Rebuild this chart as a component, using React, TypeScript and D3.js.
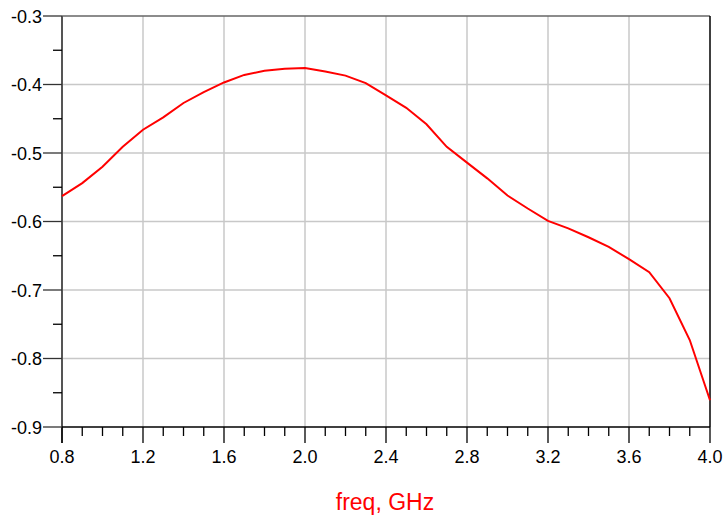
import React from "react";
import * as d3 from "d3";

const freq = [0.8, 0.9, 1.0, 1.1, 1.2, 1.3, 1.4, 1.5, 1.6, 1.7, 1.8, 1.9, 2.0, 2.1, 2.2, 2.3, 2.4, 2.5, 2.6, 2.7, 2.8, 2.9, 3.0, 3.1, 3.2, 3.3, 3.4, 3.5, 3.6, 3.7, 3.8, 3.9, 4.0];
const values = [-0.563, -0.544, -0.52, -0.491, -0.466, -0.448, -0.427, -0.411, -0.397, -0.386, -0.38, -0.377, -0.376, -0.381, -0.387, -0.398, -0.416, -0.434, -0.458, -0.491, -0.514, -0.537, -0.562, -0.581, -0.599, -0.61, -0.623, -0.637, -0.655, -0.674, -0.712, -0.773, -0.861];
const xTicks = [0.8, 1.2, 1.6, 2.0, 2.4, 2.8, 3.2, 3.6, 4.0];
const yTicks = [-0.3, -0.4, -0.5, -0.6, -0.7, -0.8, -0.9];
const xLabel = "freq, GHz";

export default function App() {
  const W = 724, H = 517;
  const L = 62, R = 710, T = 16, B = 427;
  const x = d3.scaleLinear().domain([0.8, 4.0]).range([L, R]);
  const y = d3.scaleLinear().domain([-0.9, -0.3]).range([B, T]);
  const line = d3.line<number>().x((_, i) => x(freq[i])).y((d) => y(d));
  const xMinor = d3.range(0, 33).map((i) => 0.8 + i * 0.1);
  const yMinor = d3.range(0, 6).map((i) => -0.35 - i * 0.1);
  const font = "Arial, 'Liberation Sans', sans-serif";
  return (
    <svg width={W} height={H} style={{ position: "absolute", left: 0, top: 0, background: "#fff" }} fontFamily={font}>
      {xTicks.slice(1, -1).map((t) => (
        <line key={"gx" + t} x1={x(t)} x2={x(t)} y1={T} y2={B} stroke="#c8c8c8" strokeWidth={1.5} />
      ))}
      {yTicks.slice(1, -1).map((t) => (
        <line key={"gy" + t} x1={L} x2={R} y1={y(t)} y2={y(t)} stroke="#c8c8c8" strokeWidth={1.5} />
      ))}
      <line x1={L} x2={R} y1={T} y2={T} stroke="#666" strokeWidth={1.5} />
      <line x1={R} x2={R} y1={T} y2={B} stroke="#000" strokeWidth={1.5} />
      <line x1={L} x2={L} y1={T} y2={B + 16} stroke="#555" strokeWidth={2} />
      <line x1={L} x2={R} y1={B} y2={B} stroke="#000" strokeWidth={1.5} />
      {xMinor.map((t, i) => (
        <line key={"xm" + i} x1={x(t)} x2={x(t)} y1={B} y2={i % 4 === 0 ? B + 16 : B + 9} stroke="#000" strokeWidth={1.3} />
      ))}
      {yTicks.map((t) => (
        <line key={"yt" + t} x1={L - 19} x2={L} y1={y(t)} y2={y(t)} stroke="#333" strokeWidth={1.3} />
      ))}
      {yMinor.map((t) => (
        <line key={"ym" + t} x1={L - 9} x2={L} y1={y(t)} y2={y(t)} stroke="#000" strokeWidth={1.3} />
      ))}
      <path d={line(values) || ""} fill="none" stroke="#ff0000" strokeWidth={2} />
      {xTicks.map((t) => (
        <text key={"xl" + t} x={x(t)} y={463} textAnchor="middle" fontSize={18} fill="#000">
          {t.toFixed(1)}
        </text>
      ))}
      {yTicks.map((t) => (
        <text key={"yl" + t} x={42} y={y(t) + 6.5} textAnchor="end" fontSize={18} fill="#000">
          {t.toFixed(1)}
        </text>
      ))}
      <text x={385} y={510} textAnchor="middle" fontSize={23} fill="#ff0000">
        {xLabel}
      </text>
    </svg>
  );
}
